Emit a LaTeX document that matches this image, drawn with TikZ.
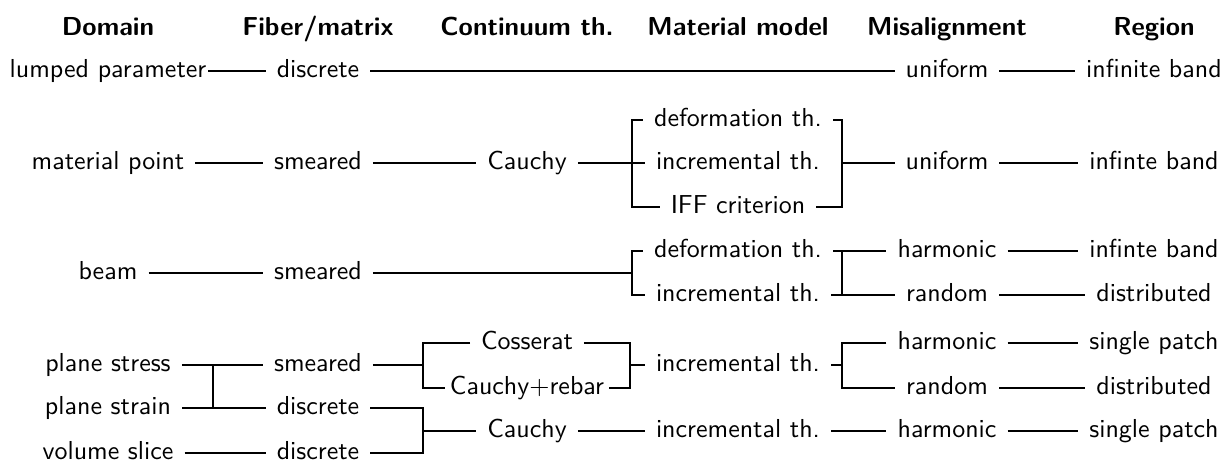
\documentclass[tikz,border=0pt]{standalone}
\usepackage{fontspec}
\begin{document}
\begin{tikzpicture}[x=0.385pt,y=-0.385pt, line width=0.55pt,
  lbl/.style={inner xsep=4pt, inner ysep=0pt, text height=6.9pt, text depth=1.9pt, font=\sffamily},
  hdr/.style={lbl, font=\sffamily\bfseries}]
\useasboundingbox (0,0) rectangle (1225,464);
% headers
\node[hdr] (h1) at (108,29) {Domain};
\node[hdr] (h2) at (318,29) {Fiber/matrix};
\node[hdr] (h3) at (527,29) {Continuum th.};
\node[hdr] (h4) at (738,29) {Material model};
\node[hdr] (h5) at (947,29) {Misalignment};
\node[hdr] (h6) at (1154,29) {Region};
% row 1
\node[lbl, inner xsep=0.5pt] (a1) at (108,71) {lumped parameter};
\node[lbl] (b1) at (318,71) {discrete};
\node[lbl] (e1) at (947,71) {uniform};
\node[lbl] (f1) at (1154,71) {infinite band};
\draw (a1) -- (b1) -- (e1) -- (f1);
% group 2
\node[lbl] (a2) at (108,163) {material point};
\node[lbl] (b2) at (318,163) {smeared};
\node[lbl] (c2) at (527,163) {Cauchy};
\node[lbl] (d2a) at (738,120) {deformation th.};
\node[lbl] (d2b) at (738,163) {incremental th.};
\node[lbl] (d2c) at (738,207) {IFF criterion};
\node[lbl] (e2) at (947,163) {uniform};
\node[lbl] (f2) at (1154,163) {infinte band};
\coordinate (k2l) at (632,163);
\coordinate (k2r) at (842,163);
\draw (a2) -- (b2) -- (c2) -- (k2l) -- (d2b);
\draw (d2a.west) -| (k2l) |- (d2c.west);
\draw (d2a.east) -| (k2r) |- (d2c.east);
\draw (k2r) -- (e2) -- (f2);
% group 3
\node[lbl] (a3) at (108,273) {beam};
\node[lbl] (b3) at (318,273) {smeared};
\node[lbl] (d3a) at (738,251) {deformation th.};
\node[lbl] (d3b) at (738,295) {incremental th.};
\node[lbl] (e3a) at (947,251) {harmonic};
\node[lbl] (e3b) at (947,295) {random};
\node[lbl] (f3a) at (1154,251) {infinte band};
\node[lbl] (f3b) at (1154,295) {distributed};
\coordinate (k3l) at (632,273);
\coordinate (k3r) at (842,273);
\draw (a3) -- (b3) -- (k3l);
\draw (d3a.west) -| (k3l) |- (d3b.west);
\draw (d3a) -- (e3a) -- (f3a);
\draw (d3b) -- (e3b) -- (f3b);
\draw (d3a.east -| k3r) -- (d3b.east -| k3r);
% group 4
\node[lbl] (a4) at (108,365) {plane stress};
\node[lbl] (a5) at (108,408) {plane strain};
\node[lbl] (a6) at (108,453) {volume slice};
\node[lbl] (b4) at (318,365) {smeared};
\node[lbl] (b5) at (318,408) {discrete};
\node[lbl] (b6) at (318,453) {discrete};
\draw (a4) -- (b4);
\draw (a5) -- (b5);
\draw (a6) -- (b6);
\coordinate (k4a) at (213,365);
\coordinate (k4b) at (213,408);
\draw (k4a) -- (k4b);
\node[lbl] (c4a) at (527,343) {Cosserat};
\node[lbl, inner xsep=1.5pt] (c4b) at (527,388) {Cauchy+rebar};
\coordinate (k4l) at (423,365);
\draw (b4) -- (k4l);
\draw (c4a.west) -| (k4l) |- (c4b.west);
\node[lbl] (d4) at (738,365) {incremental th.};
\coordinate (k4m) at (630,365);
\draw (c4a.east) -| (k4m) |- (c4b.east);
\draw (k4m) -- (d4);
\node[lbl] (e4a) at (947,343) {harmonic};
\node[lbl] (e4b) at (947,388) {random};
\coordinate (k4r) at (842,365);
\draw (d4) -- (k4r);
\draw (e4a.west) -| (k4r) |- (e4b.west);
\node[lbl] (f4a) at (1154,343) {single patch};
\node[lbl] (f4b) at (1154,388) {distributed};
\draw (e4a) -- (f4a);
\draw (e4b) -- (f4b);
% bottom
\coordinate (k5) at (423,431);
\draw (b5.east) -| (k5) |- (b6.east);
\node[lbl] (c5) at (527,431) {Cauchy};
\draw (k5) -- (c5);
\node[lbl] (d5) at (738,431) {incremental th.};
\node[lbl] (e5) at (947,431) {harmonic};
\node[lbl] (f5) at (1154,431) {single patch};
\draw (c5) -- (d5) -- (e5) -- (f5);
\end{tikzpicture}
\end{document}
